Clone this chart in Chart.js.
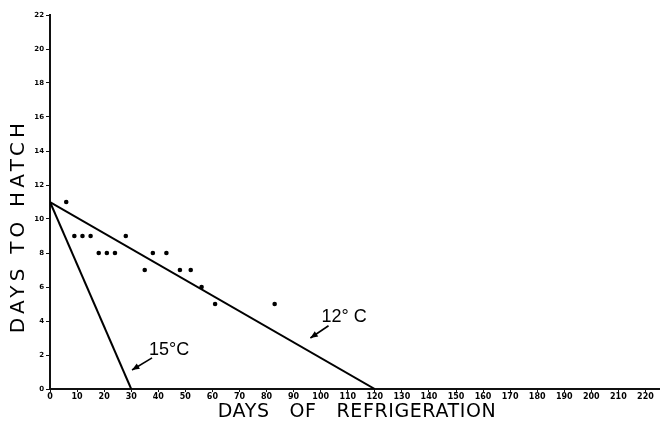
<!DOCTYPE html>
<html>
<head>
<meta charset="utf-8">
<script src="https://cdn.jsdelivr.net/npm/chart.js@4"></script>
<style>
  body { margin: 0; background: #fff; }
  canvas { display: block; }
</style>
</head>
<body>
<canvas id="chart" width="663" height="428"></canvas>
<script>
// observed hatching times (days of refrigeration, days to hatch)
const obsDays = [6, 9, 12, 15, 18, 21, 24, 28, 35, 38, 43, 48, 52, 56, 61, 83];
const obsHatch = [11, 9, 9, 9, 8, 8, 8, 9, 7, 8, 8, 7, 7, 6, 5, 5];

// fitted lines
const line12Days = [0, 120];
const line12Hatch = [11, 0];
const line15Days = [0, 30];
const line15Hatch = [11, 0];

const xTicks = [0, 10, 20, 30, 40, 50, 60, 70, 80, 90, 100, 110, 120, 130, 140, 150, 160, 170, 180, 190, 200, 210, 220];
const yTicks = [0, 2, 4, 6, 8, 10, 12, 14, 16, 18, 20, 22];

// labels with arrows, in data units
const notes = [
    { text: "12° C", x: 100.3, y: 3.95, from: [102.9, 3.72], to: [96.2, 3.0] },
    { text: "15°C", x: 36.6, y: 2.0, from: [37.7, 1.83], to: [30.3, 1.12] }
];

const xTitle = "DAYS   OF   REFRIGERATION";
const yTitle = "DAYS TO HATCH";

const toPoints = (xs, ys) => xs.map((x, i) => ({ x: x, y: ys[i] }));

const notesPlugin = {
    id: "notes",
    afterDatasetsDraw(chart) {
        const ctx = chart.ctx;
        const xs = chart.scales.x;
        const ys = chart.scales.y;
        ctx.save();
        ctx.fillStyle = "#000";
        ctx.strokeStyle = "#000";
        ctx.font = "18px 'Liberation Sans'";
        ctx.textBaseline = "alphabetic";
        notes.forEach(n => {
            ctx.fillText(n.text, xs.getPixelForValue(n.x), ys.getPixelForValue(n.y));
            const x1 = xs.getPixelForValue(n.from[0]);
            const y1 = ys.getPixelForValue(n.from[1]);
            const x2 = xs.getPixelForValue(n.to[0]);
            const y2 = ys.getPixelForValue(n.to[1]);
            ctx.lineWidth = 1.6;
            ctx.beginPath();
            ctx.moveTo(x1, y1);
            ctx.lineTo(x2, y2);
            ctx.stroke();
            const a = Math.atan2(y2 - y1, x2 - x1);
            ctx.beginPath();
            ctx.moveTo(x2, y2);
            ctx.lineTo(x2 - 8 * Math.cos(a - 0.4), y2 - 8 * Math.sin(a - 0.4));
            ctx.lineTo(x2 - 8 * Math.cos(a + 0.4), y2 - 8 * Math.sin(a + 0.4));
            ctx.closePath();
            ctx.fill();
        });

        // axis titles, hand-lettered look with wide spacing
        ctx.textAlign = "center";
        ctx.textBaseline = "middle";
        ctx.font = "19px 'DejaVu Sans'";
        ctx.letterSpacing = "0.6px";
        ctx.fillText(xTitle, 357, 412);

        ctx.translate(19, 226);
        ctx.rotate(-Math.PI / 2);
        ctx.font = "20px 'DejaVu Sans'";
        ctx.letterSpacing = "4.2px";
        ctx.fillText(yTitle, 0, 0);
        ctx.restore();
    }
};

new Chart(document.getElementById("chart"), {
    type: "scatter",
    data: {
        datasets: [
            {
                label: "observed",
                data: toPoints(obsDays, obsHatch),
                backgroundColor: "#000",
                borderWidth: 0,
                pointRadius: 2.3
            },
            {
                label: "12 C",
                data: toPoints(line12Days, line12Hatch),
                showLine: true,
                borderColor: "#000",
                borderWidth: 2,
                pointRadius: 0
            },
            {
                label: "15 C",
                data: toPoints(line15Days, line15Hatch),
                showLine: true,
                borderColor: "#000",
                borderWidth: 2,
                pointRadius: 0
            }
        ]
    },
    options: {
        responsive: false,
        animation: false,
        layout: { padding: { top: 15, right: 0, left: 0, bottom: 0 } },
        plugins: {
            legend: { display: false },
            tooltip: { enabled: false }
        },
        scales: {
            x: {
                type: "linear",
                min: 0,
                max: 225,
                afterBuildTicks: axis => { axis.ticks = xTicks.map(v => ({ value: v })); },
                afterFit: axis => { axis.height = 39; },
                border: { color: "#111", width: 2 },
                grid: { display: true, drawOnChartArea: false, drawTicks: true, tickLength: 3, color: "#111" },
                ticks: {
                    autoSkip: false,
                    maxRotation: 0,
                    padding: 0,
                    color: "#000",
                    font: { family: "'DejaVu Sans'", size: 8, weight: "bold" }
                },
                title: { display: false }
            },
            y: {
                min: 0,
                max: 22,
                afterBuildTicks: axis => { axis.ticks = yTicks.map(v => ({ value: v })); },
                afterFit: axis => { axis.width = 50; },
                border: { color: "#111", width: 2 },
                grid: { display: true, drawOnChartArea: false, drawTicks: true, tickLength: 4, color: "#111" },
                ticks: {
                    padding: 2,
                    color: "#000",
                    font: { family: "'DejaVu Sans'", size: 7, weight: "bold" }
                },
                title: { display: false }
            }
        }
    },
    plugins: [notesPlugin]
});
</script>
</body>
</html>
